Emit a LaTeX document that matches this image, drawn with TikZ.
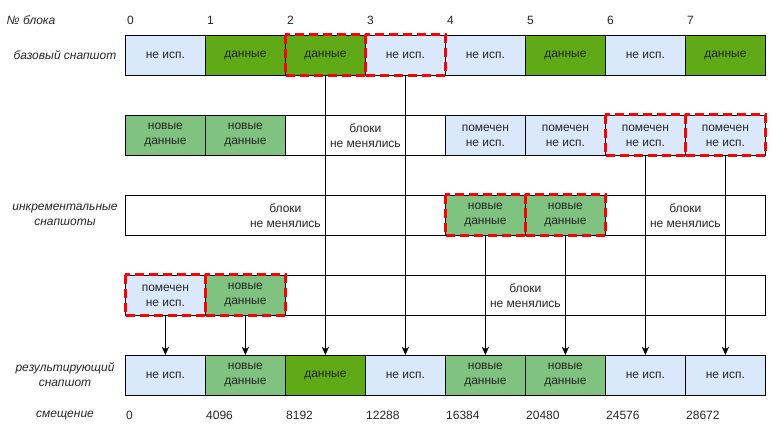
\documentclass[tikz,border=0pt]{standalone}
\usepackage{fontspec}
\setmainfont{Liberation Sans}
\usetikzlibrary{arrows.meta}
\definecolor{lblue}{HTML}{DAE8FC}
\definecolor{dgreen}{HTML}{60A917}
\definecolor{mgreen}{HTML}{80C280}
\begin{document}
\begin{tikzpicture}[x=1pt,y=-1pt,
  cell/.style={draw=black,line width=0.8pt,rectangle,anchor=north west,minimum height=40pt,inner sep=0pt,align=center,font=\fontsize{12}{15}\selectfont,text=black!85},
  c1/.style={cell,minimum width=80pt},
  free/.style={fill=lblue},
  dat/.style={fill=dgreen},
  nw/.style={fill=mgreen},
  wide/.style={cell,fill=white},
  hl/.style={draw=red,line width=3pt,dash pattern=on 9pt off 5pt},
  arr/.style={draw=black,line width=0.8pt,-{Stealth[length=8pt,width=7pt,inset=2pt]}},
  lab/.style={font=\fontsize{12}{15}\selectfont\itshape,align=center,text=black!85},
  num/.style={font=\fontsize{12}{15}\selectfont,anchor=west,inner sep=0pt,text=black!85}
]
\useasboundingbox (0,0) rectangle (772,435);
% labels
\node[lab] (lbn) at (31,20) {№ блока};
\node[lab] (lbb) at (65,55) {базовый снапшот};
\node[lab] (lbi) at (65,215) {инкрементальные\\снапшоты};
\node[lab] (lbr) at (65,375) {результирующий\\снапшот};
\node[lab] (lbs) at (65,415) {смещение};
% block numbers
\foreach \i in {0,...,7} {
  \node[num] (n\i) at ({127+80*\i},20) {\i};
}
% offsets
\foreach \i/\t in {0/0,1/4096,2/8192,3/12288,4/16384,5/20480,6/24576,7/28672} {
  \node[num] (o\i) at ({126+80*\i},415) {\t};
}
% base snapshot
\node[c1,free] (b0) at (125,35) {не исп.};
\node[c1,dat] (b1) at (205,35) {данные};
\node[c1,dat] (b2) at (285,35) {данные};
\node[c1,free] (b3) at (365,35) {не исп.};
\node[c1,free] (b4) at (445,35) {не исп.};
\node[c1,dat] (b5) at (525,35) {данные};
\node[c1,free] (b6) at (605,35) {не исп.};
\node[c1,dat] (b7) at (685,35) {данные};
% incremental 1
\node[c1,nw] (p0) at (125,115) {новые\\данные};
\node[c1,nw] (p1) at (205,115) {новые\\данные};
\node[wide,minimum width=160pt] (p2) at (285,115) {блоки\\не менялись};
\node[c1,free] (p4) at (445,115) {помечен\\не исп.};
\node[c1,free] (p5) at (525,115) {помечен\\не исп.};
\node[c1,free] (p6) at (605,115) {помечен\\не исп.};
\node[c1,free] (p7) at (685,115) {помечен\\не исп.};
% incremental 2
\node[wide,minimum width=320pt] (q0) at (125,195) {блоки\\не менялись};
\node[c1,nw] (q4) at (445,195) {новые\\данные};
\node[c1,nw] (q5) at (525,195) {новые\\данные};
\node[wide,minimum width=160pt] (q6) at (605,195) {блоки\\не менялись};
% incremental 3
\node[c1,free] (s0) at (125,275) {помечен\\не исп.};
\node[c1,nw] (s1) at (205,275) {новые\\данные};
\node[wide,minimum width=480pt] (s2) at (285,275) {блоки\\не менялись};
% result
\node[c1,free] (r0) at (125,355) {не исп.};
\node[c1,nw] (r1) at (205,355) {новые\\данные};
\node[c1,dat] (r2) at (285,355) {данные};
\node[c1,free] (r3) at (365,355) {не исп.};
\node[c1,nw] (r4) at (445,355) {новые\\данные};
\node[c1,nw] (r5) at (525,355) {новые\\данные};
\node[c1,free] (r6) at (605,355) {не исп.};
\node[c1,free] (r7) at (685,355) {не исп.};
% connectors
\draw[arr] (b2.south) -- (r2.north);
\draw[arr] (b3.south) -- (r3.north);
\draw[arr] (p6.south) -- (r6.north);
\draw[arr] (p7.south) -- (r7.north);
\draw[arr] (q4.south) -- (r4.north);
\draw[arr] (q5.south) -- (r5.north);
\draw[arr] (s0.south) -- (r0.north);
\draw[arr] (s1.south) -- (r1.north);
% highlights
\foreach \n in {b2,b3,p6,p7,q4,q5,s0,s1} {
  \draw[hl] (\n.north west) rectangle (\n.south east);
}
\end{tikzpicture}
\end{document}
